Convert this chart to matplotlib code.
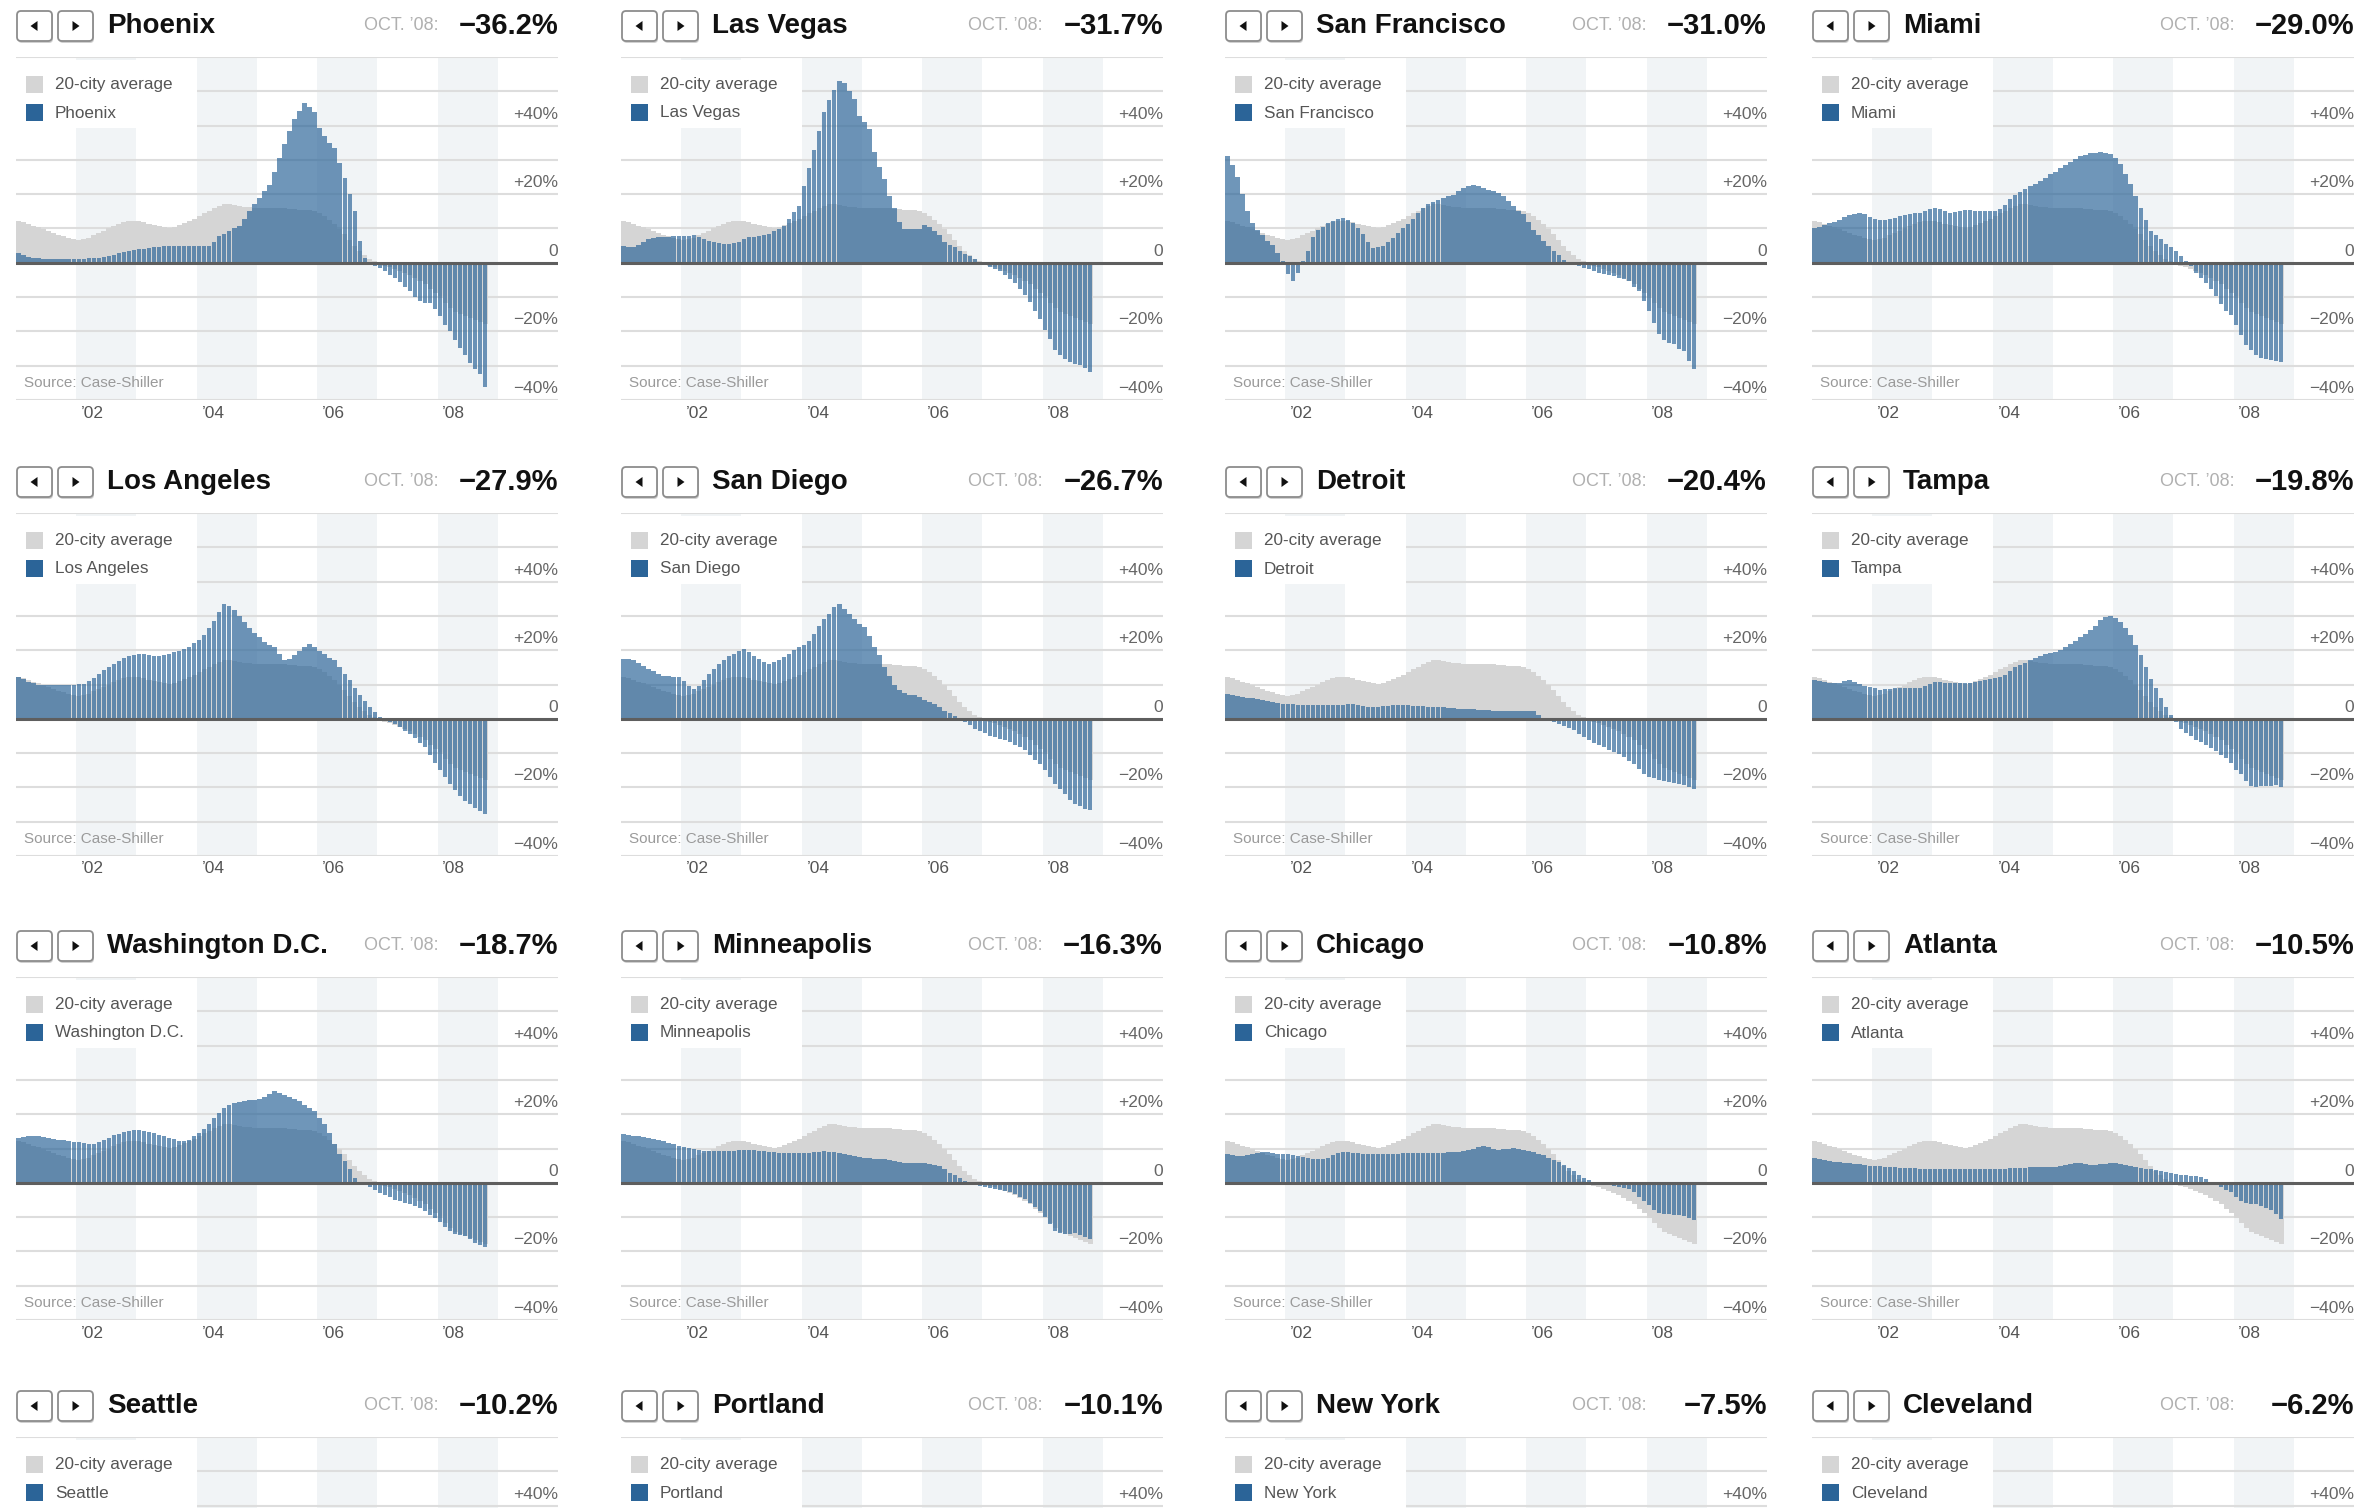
import numpy as np
import matplotlib
matplotlib.use("Agg")
import matplotlib.pyplot as plt
from matplotlib.patches import Rectangle, FancyBboxPatch, Polygon
from matplotlib.transforms import IdentityTransform

# ------------------------------------------------------------------ data
cities = ["Phoenix", "Las Vegas", "San Francisco", "Miami",
          "Los Angeles", "San Diego", "Detroit", "Tampa",
          "Washington D.C.", "Minneapolis", "Chicago", "Atlanta",
          "Seattle", "Portland", "New York", "Cleveland"]
oct08_change = [-36.2, -31.7, -31.0, -29.0, -27.9, -26.7, -20.4, -19.8,
                -18.7, -16.3, -10.8, -10.5, -10.2, -10.1, -7.5, -6.2]

first_year = 2001          # monthly values, Jan 2001 .. Oct 2008
avg_20city = [
    12.2, 11.8, 11.3, 10.8, 10.3, 9.8, 9.3, 8.8, 8.2, 7.7, 7.2, 6.9,
    6.7, 6.8, 7.3, 8.0, 8.7, 9.3, 10.0, 10.7, 11.3, 11.8, 12.1, 12.3,
    12.2, 11.9, 11.4, 11.0, 10.6, 10.3, 10.2, 10.5, 11.0, 11.5, 12.1, 12.8,
    13.6, 14.4, 15.2, 16.0, 16.6, 17.0, 17.1, 16.9, 16.6, 16.3, 16.2, 16.1,
    16.0, 16.0, 16.1, 16.1, 16.0, 15.9, 15.7, 15.6, 15.5, 15.4, 15.3, 15.1,
    14.6, 13.7, 12.6, 11.3, 9.9, 8.3, 6.6, 5.0, 3.5, 2.2, 1.1, 0.4,
    -0.2, -0.8, -1.3, -1.8, -2.3, -2.9, -3.5, -4.3, -5.2, -6.2, -7.5, -8.8,
    -10.3, -11.8, -13.2, -14.2, -15.0, -15.6, -16.1, -16.6, -17.2, -17.8]

phoenix = [
    3.0, 2.2, 1.8, 1.5, 1.3, 1.2, 1.0, 1.0, 1.0, 1.0, 1.1, 1.1,
    1.2, 1.2, 1.3, 1.4, 1.5, 1.7, 2.0, 2.4, 2.8, 3.1, 3.4, 3.7,
    3.9, 4.1, 4.3, 4.5, 4.7, 4.8, 4.9, 4.9, 4.9, 4.9, 4.9, 4.9,
    4.9, 4.9, 4.9, 6.0, 7.8, 8.5, 9.3, 10.0, 10.7, 12.8, 15.0, 17.0,
    19.0, 21.0, 22.8, 26.5, 30.6, 34.5, 38.3, 42.0, 44.2, 46.6, 45.5, 44.0,
    39.3, 37.0, 35.0, 33.5, 29.0, 24.8, 20.0, 15.0, 6.3, 1.5, 0.0, -1.0,
    -1.5, -2.5, -3.5, -4.4, -5.5, -7.0, -8.3, -10.0, -11.2, -11.6, -11.7, -13.5,
    -15.5, -18.0, -19.9, -22.5, -24.8, -27.0, -29.1, -31.0, -32.5, -36.2]

las_vegas = [
    5.0, 4.7, 4.6, 5.2, 6.0, 6.8, 7.3, 7.5, 7.6, 7.6, 7.7, 7.8,
    7.8, 7.9, 8.0, 7.6, 7.0, 6.5, 6.2, 5.9, 5.6, 5.5, 5.7, 6.2,
    7.0, 7.4, 7.6, 7.8, 8.0, 8.5, 9.2, 9.9, 10.6, 12.8, 14.8, 16.7,
    22.5, 27.5, 33.0, 38.5, 43.9, 47.5, 50.5, 53.1, 52.5, 50.0, 47.8, 42.9,
    41.0, 39.0, 32.2, 28.0, 24.5, 19.5, 16.0, 11.8, 9.9, 9.8, 9.8, 9.9,
    10.9, 10.3, 9.4, 8.0, 6.0, 5.3, 4.6, 3.5, 2.5, 2.1, 1.0, 0.0,
    -0.5, -1.2, -1.7, -2.5, -3.5, -4.7, -5.8, -7.6, -9.5, -11.5, -14.0, -16.3,
    -19.5, -22.1, -25.5, -27.0, -28.0, -28.8, -29.5, -29.9, -30.8, -31.7]

san_francisco = [
    31.0, 28.6, 25.0, 20.0, 15.0, 11.5, 9.7, 8.0, 6.5, 5.3, 3.0, 0.5,
    -3.4, -5.3, -3.0, 0.5, 3.5, 7.5, 9.5, 10.5, 11.5, 12.3, 12.8, 13.1,
    12.5, 11.7, 10.0, 8.5, 6.0, 4.4, 4.5, 4.9, 6.0, 7.3, 8.8, 10.2,
    11.2, 12.8, 14.5, 16.0, 17.0, 17.8, 18.4, 19.0, 19.5, 19.9, 20.8, 21.8,
    22.3, 22.8, 22.5, 21.8, 21.3, 20.8, 20.4, 19.5, 18.0, 16.5, 15.2, 14.1,
    12.0, 9.7, 8.0, 6.3, 5.0, 3.4, 2.2, 0.8, 0.0, -0.5, -1.0, -1.5,
    -1.8, -2.3, -2.9, -3.3, -3.6, -3.9, -4.3, -4.8, -5.3, -7.0, -8.3, -11.0,
    -14.1, -17.5, -20.9, -22.5, -23.3, -23.8, -25.0, -25.7, -28.6, -31.0]

miami = [
    10.2, 10.5, 11.0, 11.5, 12.0, 12.6, 13.3, 13.8, 14.2, 14.6, 14.2, 13.3,
    12.7, 12.5, 12.6, 12.7, 13.0, 13.5, 14.0, 14.3, 14.5, 14.6, 15.2, 15.8,
    16.1, 15.8, 15.2, 14.6, 14.8, 15.1, 15.3, 15.3, 15.2, 15.1, 15.1, 15.1,
    15.1, 15.6, 16.8, 18.5, 19.8, 20.6, 21.5, 22.3, 23.0, 23.9, 24.8, 25.8,
    26.5, 27.5, 28.5, 29.5, 30.3, 31.0, 31.5, 31.9, 32.1, 32.2, 32.0, 31.7,
    30.5, 28.8, 26.0, 22.9, 19.5, 16.1, 12.5, 9.3, 8.0, 6.8, 5.5, 4.5,
    3.4, 2.0, 0.5, -1.0, -2.9, -4.5, -5.9, -7.5, -9.8, -12.0, -14.0, -15.1,
    -18.0, -21.0, -24.0, -25.4, -27.0, -27.8, -28.0, -28.2, -28.5, -29.0]

los_angeles = [
    12.1, 11.5, 10.7, 10.3, 10.0, 10.0, 10.0, 9.9, 9.9, 10.0, 10.0, 10.0,
    10.1, 10.2, 11.0, 12.0, 13.1, 14.2, 15.2, 16.0, 16.8, 17.6, 18.2, 18.6,
    18.9, 19.0, 18.6, 18.4, 18.4, 18.7, 19.0, 19.4, 19.8, 20.3, 20.9, 22.0,
    23.0, 24.5, 26.5, 28.6, 31.0, 33.5, 32.8, 31.6, 30.0, 28.2, 26.5, 25.0,
    23.8, 22.5, 21.5, 20.9, 19.0, 17.0, 17.5, 18.5, 19.9, 20.8, 21.8, 21.0,
    19.9, 18.8, 17.8, 17.0, 15.0, 13.0, 11.2, 9.0, 7.0, 5.3, 3.5, 2.0,
    0.5, 0.0, -0.8, -1.5, -2.5, -3.5, -4.4, -5.5, -7.0, -8.3, -10.5, -13.0,
    -15.0, -17.0, -19.0, -20.9, -22.5, -24.0, -24.8, -26.0, -27.0, -27.9]

san_diego = [
    17.5, 17.3, 17.0, 16.3, 15.5, 14.6, 13.8, 13.0, 12.6, 12.4, 12.2, 12.1,
    11.0, 9.5, 8.7, 9.5, 11.2, 13.0, 14.5, 16.0, 17.2, 18.2, 18.9, 19.8,
    20.4, 19.5, 18.4, 17.5, 16.5, 16.0, 16.5, 17.2, 18.0, 19.0, 20.0, 20.9,
    21.5, 22.8, 24.8, 27.0, 29.0, 30.6, 32.5, 33.5, 32.0, 30.6, 29.0, 27.5,
    26.7, 24.0, 20.9, 18.5, 15.0, 12.5, 10.0, 8.3, 7.5, 7.0, 6.8, 6.3,
    5.6, 4.9, 4.2, 3.5, 2.4, 1.6, 0.8, 0.0, -0.8, -1.8, -2.9, -3.5,
    -4.2, -4.9, -5.3, -5.8, -6.3, -6.8, -7.5, -8.3, -9.0, -10.5, -12.0, -13.1,
    -15.0, -17.0, -18.9, -20.5, -22.0, -23.8, -24.8, -25.5, -26.2, -26.7]

detroit = [
    7.3, 7.0, 6.7, 6.4, 6.2, 6.0, 5.7, 5.5, 5.2, 4.9, 4.6, 4.4,
    4.3, 4.2, 4.1, 4.0, 3.9, 3.9, 3.9, 4.0, 3.9, 3.9, 4.0, 4.1,
    4.2, 4.2, 4.0, 3.8, 3.5, 3.4, 3.5, 3.7, 3.8, 3.9, 3.9, 3.9,
    3.9, 3.8, 3.7, 3.6, 3.5, 3.4, 3.4, 3.3, 3.2, 3.1, 3.0, 2.9,
    2.9, 2.8, 2.7, 2.6, 2.5, 2.4, 2.4, 2.4, 2.4, 2.4, 2.4, 2.4,
    2.4, 2.2, 1.0, 0.0, -0.5, -1.0, -1.5, -2.2, -2.8, -3.4, -4.3, -5.3,
    -6.3, -7.0, -7.6, -8.3, -9.0, -9.6, -10.2, -11.2, -12.2, -13.1, -14.5, -16.0,
    -17.0, -17.3, -17.7, -18.0, -18.3, -18.6, -18.9, -19.3, -19.8, -20.4]

tampa = [
    11.3, 11.0, 10.7, 10.5, 10.3, 10.5, 10.9, 11.3, 10.8, 10.2, 9.7, 9.4,
    9.0, 8.4, 8.6, 8.8, 8.9, 8.9, 8.9, 8.9, 9.0, 8.9, 9.5, 10.2,
    10.6, 10.8, 10.5, 10.3, 10.3, 10.3, 10.3, 10.4, 10.6, 10.9, 11.3, 11.6,
    11.8, 12.2, 12.8, 13.8, 15.0, 15.7, 16.4, 17.0, 17.6, 18.2, 18.8, 19.3,
    19.5, 20.2, 21.0, 21.9, 22.8, 23.8, 24.8, 25.8, 27.0, 28.7, 29.6, 30.1,
    29.5, 28.2, 26.5, 24.3, 21.5, 18.5, 15.0, 11.5, 8.9, 6.0, 3.5, 1.2,
    -1.0, -3.0, -4.2, -5.0, -6.1, -6.8, -7.5, -8.5, -9.5, -10.5, -11.4, -13.0,
    -14.8, -16.2, -18.0, -19.6, -19.8, -19.7, -19.6, -19.5, -19.3, -19.8]

washington_dc = [
    13.1, 13.3, 13.5, 13.6, 13.5, 13.3, 13.1, 12.9, 12.6, 12.4, 12.2, 12.0,
    11.8, 11.6, 11.4, 11.2, 11.8, 12.5, 13.1, 13.8, 14.3, 14.8, 15.2, 15.5,
    15.5, 15.2, 14.8, 14.4, 14.0, 13.5, 13.1, 12.7, 12.3, 12.1, 12.5, 13.5,
    14.6, 15.8, 17.2, 18.9, 20.3, 21.8, 22.8, 23.3, 23.6, 23.8, 24.0, 24.2,
    24.3, 25.0, 26.0, 26.7, 26.2, 25.5, 25.0, 24.3, 23.8, 22.8, 21.8, 20.9,
    19.0, 17.0, 14.5, 11.2, 8.5, 6.3, 4.0, 1.5, 0.0, -0.5, -1.3, -2.2,
    -2.9, -3.5, -4.2, -4.9, -5.4, -5.9, -6.3, -6.8, -7.3, -8.3, -9.3, -10.2,
    -11.5, -13.0, -14.1, -14.8, -15.2, -15.5, -16.5, -17.5, -18.2, -18.7]

minneapolis = [
    14.1, 13.9, 13.7, 13.5, 13.3, 13.1, 12.8, 12.4, 12.1, 11.6, 11.2, 10.7,
    10.4, 10.1, 9.8, 9.6, 9.4, 9.2, 9.2, 9.2, 9.2, 9.3, 9.4, 9.6,
    9.7, 9.7, 9.5, 9.3, 9.2, 9.0, 8.9, 8.8, 8.7, 8.7, 8.7, 8.7,
    8.7, 8.8, 8.9, 9.1, 9.2, 9.1, 8.9, 8.7, 8.4, 8.0, 7.7, 7.4,
    7.3, 7.2, 7.0, 6.9, 6.8, 6.6, 6.3, 6.0, 5.8, 5.8, 5.8, 5.8,
    5.8, 5.6, 5.3, 4.9, 4.0, 3.0, 2.2, 1.4, 0.6, 0.0, -0.5, -1.0,
    -1.3, -1.6, -1.9, -2.2, -2.4, -2.8, -3.4, -4.0, -4.8, -5.8, -7.0, -8.3,
    -10.0, -12.0, -14.1, -14.6, -15.0, -14.8, -14.6, -15.2, -15.8, -16.3]

chicago = [
    8.3, 8.1, 7.9, 7.8, 8.0, 8.4, 8.8, 9.0, 8.9, 8.7, 8.5, 8.3,
    8.3, 8.1, 7.8, 7.5, 7.3, 7.0, 6.8, 6.8, 7.3, 8.0, 8.6, 9.0,
    9.0, 8.8, 8.6, 8.4, 8.3, 8.3, 8.3, 8.4, 8.4, 8.4, 8.5, 8.6,
    8.6, 8.7, 8.7, 8.7, 8.7, 8.7, 8.7, 8.8, 8.9, 9.0, 9.1, 9.2,
    9.5, 10.0, 10.5, 10.7, 10.3, 9.9, 9.7, 9.8, 10.0, 10.2, 10.0, 9.7,
    9.4, 9.0, 8.5, 8.0, 7.3, 6.7, 6.0, 5.3, 4.4, 3.4, 2.4, 1.5,
    0.8, 0.3, 0.0, -0.4, -0.7, -1.0, -1.3, -1.6, -1.9, -2.8, -4.0, -5.3,
    -6.5, -7.8, -8.7, -9.0, -9.2, -9.3, -9.5, -9.7, -10.2, -10.8]

atlanta = [
    7.3, 7.0, 6.7, 6.4, 6.2, 6.0, 5.9, 5.8, 5.6, 5.4, 5.2, 5.0,
    4.9, 4.8, 4.7, 4.6, 4.5, 4.4, 4.4, 4.3, 4.2, 4.1, 4.0, 4.0,
    3.9, 3.9, 3.9, 3.9, 3.9, 3.9, 3.9, 3.9, 3.9, 3.9, 3.9, 3.9,
    3.9, 4.0, 4.1, 4.2, 4.3, 4.4, 4.4, 4.5, 4.5, 4.5, 4.6, 4.6,
    4.6, 4.8, 5.2, 5.5, 5.8, 5.7, 5.5, 5.3, 5.3, 5.4, 5.6, 5.8,
    5.8, 5.6, 5.3, 5.0, 4.6, 4.3, 4.1, 3.9, 3.6, 3.4, 3.1, 2.8,
    2.6, 2.4, 2.2, 2.0, 1.9, 1.6, 1.0, 0.3, -0.5, -1.3, -2.0, -2.8,
    -4.0, -5.3, -5.8, -6.1, -6.3, -6.8, -7.3, -8.0, -9.2, -10.5]

city_series = {
    "Phoenix": phoenix, "Las Vegas": las_vegas, "San Francisco": san_francisco,
    "Miami": miami, "Los Angeles": los_angeles, "San Diego": san_diego,
    "Detroit": detroit, "Tampa": tampa, "Washington D.C.": washington_dc,
    "Minneapolis": minneapolis, "Chicago": chicago, "Atlanta": atlanta,
}

shaded_years = [2002, 2004, 2006, 2008]
year_ticks = [2002, 2004, 2006, 2008]
year_labels = ["\u201902", "\u201904", "\u201906", "\u201908"]
pct_ticks = [40, 20, 0, -20, -40]
pct_labels = ["+40%", "+20%", "0", "\u221220%", "\u221240%"]

# ------------------------------------------------------------------ layout
FIG_W, FIG_H, DPI = 2377, 1508, 100
COL_LEFT = [16, 621, 1225, 1812]
ROW_TOP = [57, 513, 977, 1437]
PANEL_W = 542
CHART_H = 343
X0, X1 = 2001.0, 2010.0
Y0, Y1 = -40.0, 60.0

BAR_COLOR = "#2b6498"
AVG_COLOR = "#d5d5d5"
BAND_COLOR = "#f1f4f6"
GRID_COLOR = "#dddddd"

plt.rcParams["font.family"] = ["Liberation Sans", "DejaVu Sans"]

fig = plt.figure(figsize=(FIG_W / DPI, FIG_H / DPI), dpi=DPI)
fig.patch.set_facecolor("white")
ident = IdentityTransform()


def fy(y_from_top):
    return FIG_H - y_from_top


def visible(y_from_top):
    return y_from_top < FIG_H - 1


def fmt_pct(v):
    return f"{v:.1f}%".replace("-", "\u2212")


for i, city in enumerate(cities):
    r, c = divmod(i, 4)
    L = COL_LEFT[c]
    T = ROW_TOP[r]
    R = L + PANEL_W
    ax = fig.add_axes([L / FIG_W, 1 - (T + CHART_H) / FIG_H,
                       PANEL_W / FIG_W, CHART_H / FIG_H])
    ax.set_xlim(X0, X1)
    ax.set_ylim(Y0, Y1)
    ax.set_axis_off()
    px_x = (X1 - X0) / PANEL_W
    px_y = (Y1 - Y0) / CHART_H

    def ypix(v):
        return T + (Y1 - v) / px_y

    for yr in shaded_years:
        ax.axvspan(yr, yr + 1, color=BAND_COLOR, lw=0, zorder=0)
    for v in np.arange(Y0, Y1 + 1, 10):
        if v != 0:
            ax.axhline(v, color=GRID_COLOR, lw=1.5, zorder=1)
    # white legend box
    ax.add_patch(Rectangle((X0, Y1 - 71 * px_y), 3.0, 68 * px_y,
                           fc="white", ec="none", zorder=1.5))

    n = len(avg_20city)
    edges = first_year + np.arange(n + 1) / 12.0
    ax.stairs(avg_20city, edges, baseline=0, fill=True, color=AVG_COLOR,
              lw=0, zorder=2)
    if city in city_series:
        vals = np.array(city_series[city])
        centers = first_year + (np.arange(len(vals)) + 0.5) / 12.0
        ax.bar(centers, vals, width=0.88 / 12, color=BAR_COLOR, alpha=0.68,
               lw=0, zorder=3)
    ax.axhline(0, color="#5e5e5e", lw=2.2, zorder=4)

    # right-hand percentage labels (only those that fall on the page)
    for v, lab in zip(pct_ticks, pct_labels):
        if visible(ypix(v) - 11.5 + 7):
            ax.text(X1, v + 11.5 * px_y, lab, ha="right", va="center",
                    fontsize=12.5, color="#666666", zorder=6)
    # year labels and source
    if visible(ypix(Y0) + 20):
        for yr, lab in zip(year_ticks, year_labels):
            ax.text(yr + 0.27, Y0 - 13 * px_y, lab, ha="center", va="center",
                    fontsize=12.5, color="#555555", clip_on=False)
        fig.text(L + 8, fy(T + 326), "Source: Case-Shiller", fontsize=11,
                 color="#9a9a9a", va="center", ha="left", transform=ident)

    # legend
    fig.add_artist(Rectangle((L + 10, fy(T + 36)), 17, 17, fc=AVG_COLOR,
                             ec="none", transform=ident, zorder=5))
    fig.add_artist(Rectangle((L + 10, fy(T + 64)), 17, 17, fc=BAR_COLOR,
                             ec="none", transform=ident, zorder=5))
    fig.text(L + 39, fy(T + 28), "20-city average", fontsize=12.3,
             color="#555555", va="center", ha="left", transform=ident)
    fig.text(L + 39, fy(T + 56), city, fontsize=12.3,
             color="#555555", va="center", ha="left", transform=ident)

    # header
    hc = T - 31
    for k, bx in enumerate((L + 1, L + 42)):
        fig.add_artist(FancyBboxPatch((bx + 1, fy(hc + 15) - 2), 35, 30,
                                      boxstyle="round,pad=0,rounding_size=4",
                                      fc="#d0d0d0", ec="none",
                                      transform=ident, zorder=5))
        fig.add_artist(FancyBboxPatch((bx, fy(hc + 15)), 35, 30,
                                      boxstyle="round,pad=0,rounding_size=4",
                                      fc="white", ec="#8c8c8c", lw=1.3,
                                      transform=ident, zorder=6))
        cx, cy = bx + 17.5, fy(hc)
        if k == 0:
            tri = [(cx - 4, cy), (cx + 3, cy + 5), (cx + 3, cy - 5)]
        else:
            tri = [(cx + 4, cy), (cx - 3, cy + 5), (cx - 3, cy - 5)]
        fig.add_artist(Polygon(tri, closed=True, fc="#111111", ec="none",
                               transform=ident, zorder=7))
    fig.text(L + 91, fy(hc), city, fontsize=20, fontweight="bold",
             color="#111111", va="center", ha="left", transform=ident)
    fig.text(R - 120, fy(hc), "OCT. \u201908:", fontsize=13,
             color="#b0b0b0", va="center", ha="right", transform=ident)
    fig.text(R, fy(hc), fmt_pct(oct08_change[i]), fontsize=21,
             fontweight="bold", color="#111111", va="center", ha="right",
             transform=ident)

fig.savefig("out.png", dpi=DPI, facecolor="white")
